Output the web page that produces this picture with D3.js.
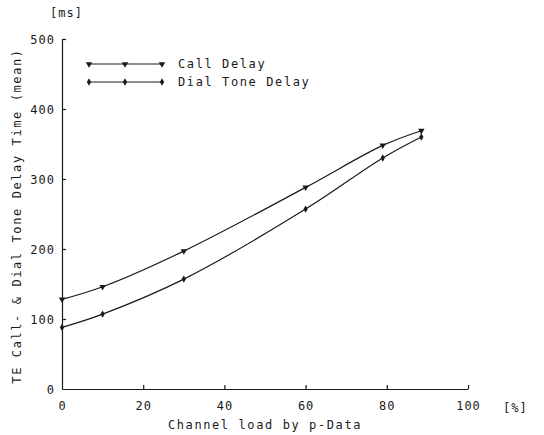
<!DOCTYPE html>
<html>
<head>
<meta charset="utf-8">
<script src="https://cdn.jsdelivr.net/npm/d3@7"></script>
<style>
  body { margin: 0; background: #fff; }
  svg text { font-family: "DejaVu Sans Mono", "Liberation Mono", monospace; fill: #1a1a1a; }
</style>
</head>
<body>
<script>
// values
var loads = [0, 10, 30, 60, 79, 88.5];               // channel load by p-Data [%]
var callDelay = [128, 146, 197, 288, 348, 369];       // ms
var dialToneDelay = [88, 107, 157, 257, 330, 360];    // ms
var xTicks = [0, 20, 40, 60, 80, 100];
var yTicks = [0, 100, 200, 300, 400, 500];
var seriesNames = ["Call Delay", "Dial Tone Delay"];

var width = 544, height = 435;
var margin = {left: 62, top: 39, right: 76, bottom: 46};

var svg = d3.select("body").append("svg")
  .attr("width", width)
  .attr("height", height);

var x = d3.scaleLinear().domain([0, 100]).range([margin.left, width - margin.right]);
var y = d3.scaleLinear().domain([0, 500]).range([height - margin.bottom, margin.top]);

var ink = "#1a1a1a";

// axes: ticks point inward, like the original plot
var xAxis = svg.append("g")
  .attr("transform", "translate(0," + y(0) + ")")
  .call(d3.axisBottom(x).tickValues(xTicks).tickSizeInner(-4).tickSizeOuter(0).tickPadding(12));
var yAxis = svg.append("g")
  .attr("transform", "translate(" + x(0) + ",0)")
  .call(d3.axisLeft(y).tickValues(yTicks).tickSizeInner(-4).tickSizeOuter(0).tickPadding(7));

[xAxis, yAxis].forEach(function (g) {
  g.select(".domain").attr("stroke", ink).attr("stroke-width", 1.2);
  g.selectAll(".tick line").attr("stroke", ink).attr("stroke-width", 1.2);
  g.selectAll(".tick text")
    .attr("font-size", 12)
    .attr("letter-spacing", 1)
    .attr("fill", ink);
});
xAxis.selectAll(".tick").filter(function (d) { return d === 0; }).select("line").remove();
yAxis.selectAll(".tick").filter(function (d) { return d === 0; }).select("line").remove();
yAxis.selectAll(".tick text").attr("dy", "0.36em");

// unit labels
svg.append("text").attr("x", 50).attr("y", 17).attr("font-size", 12).attr("letter-spacing", 1).text("[ms]");
svg.append("text").attr("x", 503).attr("y", 412).attr("font-size", 12).attr("letter-spacing", 1).text("[%]");

// axis titles
svg.append("text")
  .attr("x", (x(0) + x(100)) / 2)
  .attr("y", 429)
  .attr("text-anchor", "middle")
  .attr("font-size", 12)
  .attr("letter-spacing", 1.6)
  .text("Channel load by p-Data");

svg.append("text")
  .attr("transform", "translate(21," + 216 + ") rotate(-90)")
  .attr("text-anchor", "middle")
  .attr("font-size", 12)
  .attr("letter-spacing", 1.6)
  .text("TE Call- & Dial Tone Delay Time (mean)");

// curves
var line = d3.line()
  .x(function (d) { return x(d[0]); })
  .y(function (d) { return y(d[1]); })
  .curve(d3.curveCatmullRom.alpha(0.5));

var callPts = loads.map(function (l, i) { return [l, callDelay[i]]; });
var dialPts = loads.map(function (l, i) { return [l, dialToneDelay[i]]; });

[callPts, dialPts].forEach(function (pts) {
  svg.append("path")
    .datum(pts)
    .attr("d", line)
    .attr("fill", "none")
    .attr("stroke", ink)
    .attr("stroke-width", 1.2);
});

var triangle = d3.symbol().type(d3.symbolTriangle).size(18);
var diamond = d3.symbol().type(d3.symbolDiamond).size(16);

svg.selectAll(".callMark")
  .data(callPts)
  .enter().append("path")
  .attr("class", "callMark")
  .attr("d", triangle)
  .attr("transform", function (d) { return "translate(" + x(d[0]) + "," + y(d[1]) + ") rotate(180)"; })
  .attr("fill", ink);

svg.selectAll(".dialMark")
  .data(dialPts)
  .enter().append("path")
  .attr("class", "dialMark")
  .attr("d", diamond)
  .attr("transform", function (d) { return "translate(" + x(d[0]) + "," + y(d[1]) + ")"; })
  .attr("fill", ink);

// legend
var legendX = [89, 125, 162];
var legend = svg.selectAll(".legend")
  .data(seriesNames)
  .enter().append("g")
  .attr("class", "legend")
  .attr("transform", function (d, i) { return "translate(0," + (64 + i * 18) + ")"; });

legend.append("line")
  .attr("x1", legendX[0]).attr("x2", legendX[2])
  .attr("stroke", ink).attr("stroke-width", 1);

legend.each(function (d, i) {
  d3.select(this).selectAll("path")
    .data(legendX)
    .enter().append("path")
    .attr("d", i === 0 ? triangle : diamond)
    .attr("transform", function (lx) { return "translate(" + lx + ",0)" + (i === 0 ? " rotate(180)" : ""); })
    .attr("fill", ink);
});

legend.append("text")
  .attr("x", 178)
  .attr("y", 4)
  .attr("font-size", 12)
  .attr("letter-spacing", 1.6)
  .text(function (d) { return d; });
</script>
</body>
</html>
